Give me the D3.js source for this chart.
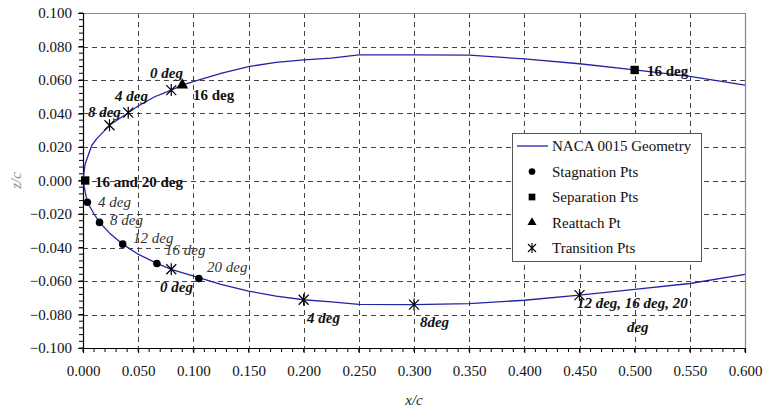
<!DOCTYPE html>
<html>
<head>
<meta charset="utf-8">
<script src="https://cdn.jsdelivr.net/npm/d3@7"></script>
<style>
  body { margin: 0; background: #fff; }
  svg { font-family: "Liberation Serif", "Times New Roman", serif; }
</style>
</head>
<body>
<svg id="chart" width="764" height="410"></svg>
<script>
// airfoil outline
var upperX = [0.000, 0.002, 0.008, 0.0125, 0.025, 0.040, 0.050, 0.065, 0.080, 0.090, 0.100, 0.125, 0.150, 0.175, 0.200, 0.225, 0.250, 0.300, 0.350, 0.400, 0.450, 0.500, 0.550, 0.600];
var upperZ = [0.000, 0.010, 0.021, 0.025, 0.0335, 0.040, 0.0445, 0.050, 0.054, 0.057, 0.059, 0.064, 0.068, 0.0705, 0.072, 0.073, 0.075, 0.075, 0.0748, 0.0726, 0.0697, 0.066, 0.0622, 0.057];
var lowerX = [0.000, 0.002, 0.004, 0.010, 0.015, 0.025, 0.036, 0.050, 0.067, 0.080, 0.095, 0.105, 0.125, 0.150, 0.175, 0.200, 0.225, 0.250, 0.300, 0.350, 0.400, 0.450, 0.500, 0.550, 0.600];
var lowerZ = [0.000, -0.007, -0.013, -0.020, -0.025, -0.032, -0.038, -0.044, -0.0495, -0.053, -0.056, -0.058, -0.062, -0.066, -0.069, -0.0712, -0.0725, -0.074, -0.0741, -0.0735, -0.0715, -0.0684, -0.065, -0.0615, -0.056];

var stagX = [0.004, 0.015, 0.036, 0.067, 0.105];
var stagZ = [-0.013, -0.025, -0.038, -0.0495, -0.0585];
var sepX = [0.002, 0.500];
var sepZ = [0.000, 0.066];
var reatX = [0.090];
var reatZ = [0.057];
var transX = [0.024, 0.041, 0.080, 0.080, 0.200, 0.300, 0.450];
var transZ = [0.033, 0.0405, 0.054, -0.053, -0.0712, -0.0741, -0.0684];

// annotation text, anchored at data coords (left/baseline)
var labelText = ["0 deg", "16 deg", "4 deg", "8 deg", "16 and 20 deg", "4 deg", "8 deg", "12 deg", "16 deg", "20 deg", "0 deg", "4 deg", "8deg", "12 deg, 16 deg, 20", "deg", "16 deg"];
var labelX = [0.0607, 0.0997, 0.029, 0.0045, 0.0109, 0.0136, 0.0245, 0.0453, 0.0743, 0.1124, 0.0698, 0.203, 0.3054, 0.4477, 0.493, 0.5112];
var labelZ = [0.0612, 0.0481, 0.0475, 0.0379, -0.0039, -0.0158, -0.0266, -0.0373, -0.0445, -0.0546, -0.0666, -0.0851, -0.0875, -0.0761, -0.0904, 0.0624];
var labelKind = ["bi", "b", "bi", "bi", "b", "i", "i", "i", "i", "i", "bi", "bi", "bi", "bi", "bi", "b"];

var xTicks = d3.range(0, 0.6001, 0.05);
var yTicks = d3.range(-0.1, 0.1001, 0.02);
var legendNames = ["NACA 0015 Geometry", "Stagnation Pts", "Separation Pts", "Reattach Pt", "Transition Pts"];

var svg = d3.select('#chart');
var pL = 83, pR = 745, pT = 13, pB = 348;
var curveColor = '#2323a6';

var x = d3.scaleLinear().domain([0, 0.6]).range([pL, pR]);
var y = d3.scaleLinear().domain([-0.1, 0.1]).range([pB, pT]);

svg.append('rect').attr('width', 764).attr('height', 410).attr('fill', '#fff');

// grid
var grid = svg.append('g').attr('stroke', '#444').attr('stroke-dasharray', '5,4').attr('stroke-width', 1);
grid.selectAll('line.gx').data(xTicks.slice(1, -1)).enter().append('line')
    .attr('x1', function(d) { return Math.round(x(d)) + 0.5; })
    .attr('x2', function(d) { return Math.round(x(d)) + 0.5; })
    .attr('y1', pT).attr('y2', pB);
grid.selectAll('line.gy').data(yTicks.slice(1, -1)).enter().append('line')
    .attr('y1', function(d) { return Math.round(y(d)) + 0.5; })
    .attr('y2', function(d) { return Math.round(y(d)) + 0.5; })
    .attr('x1', pL).attr('x2', pR);

// top/right frame
svg.append('path')
    .attr('d', 'M' + pL + ',' + (pT + 0.5) + 'H' + (pR + 0.5) + 'V' + pB)
    .attr('fill', 'none').attr('stroke', '#888').attr('stroke-width', 1.2);

// axes
var xAxis = d3.axisBottom(x).tickValues(xTicks).tickFormat(d3.format('.3f')).tickSize(5).tickPadding(12);
var yAxis = d3.axisLeft(y).tickValues(yTicks).tickFormat(d3.format('.3f')).tickSize(5).tickPadding(6);

var gx = svg.append('g').attr('transform', 'translate(0,' + pB + ')').call(xAxis);
var gy = svg.append('g').attr('transform', 'translate(' + pL + ',0)').call(yAxis);

// minor ticks
gx.selectAll('line.minor').data(d3.range(0, 0.6001, 0.01)).enter().append('line')
    .attr('x1', function(d) { return x(d); }).attr('x2', function(d) { return x(d); })
    .attr('y1', 0).attr('y2', 4).attr('stroke', '#000');
gy.selectAll('line.minor').data(d3.range(-0.1, 0.1001, 0.004)).enter().append('line')
    .attr('y1', function(d) { return y(d); }).attr('y2', function(d) { return y(d); })
    .attr('x1', 0).attr('x2', -4).attr('stroke', '#000');

[gx, gy].forEach(function(g) {
  g.select('.domain').attr('stroke', '#000').attr('stroke-width', 1.2);
  g.selectAll('text').attr('font-family', '"Liberation Serif", serif').attr('font-size', 15).attr('fill', '#111');
});

// axis titles
svg.append('text').attr('x', x(0.3)).attr('y', 405).attr('text-anchor', 'middle')
    .attr('font-style', 'italic').attr('font-size', 15).attr('fill', '#222').text('x/c');
svg.append('text').attr('transform', 'translate(21,' + y(0) + ') rotate(-90)').attr('text-anchor', 'middle')
    .attr('font-style', 'italic').attr('font-size', 15).attr('fill', '#888').text('z/c');

// airfoil
var line = d3.line().x(function(d) { return x(d[0]); }).y(function(d) { return y(d[1]); });
svg.append('path').datum(d3.zip(upperX, upperZ)).attr('d', line)
    .attr('fill', 'none').attr('stroke', curveColor).attr('stroke-width', 1.3);
svg.append('path').datum(d3.zip(lowerX, lowerZ)).attr('d', line)
    .attr('fill', 'none').attr('stroke', curveColor).attr('stroke-width', 1.3);

// markers
var sym = {
  circle: d3.symbol().type(d3.symbolCircle).size(45),
  square: d3.symbol().type(d3.symbolSquare).size(70),
  triangle: d3.symbol().type(d3.symbolTriangle).size(60)
};
function star(g) {
  g.append('path').attr('d', 'M-5,-5L5,5M-5,5L5,-5M0,-6L0,6')
    .attr('stroke', '#000').attr('stroke-width', 1.2).attr('fill', 'none');
}
function addPts(xs, zs, draw) {
  d3.zip(xs, zs).forEach(function(p) {
    var g = svg.append('g').attr('transform', 'translate(' + x(p[0]) + ',' + y(p[1]) + ')');
    draw(g);
  });
}
addPts(stagX, stagZ, function(g) { g.append('path').attr('d', sym.circle()).attr('fill', '#000'); });
addPts(sepX, sepZ, function(g) { g.append('path').attr('d', sym.square()).attr('fill', '#000'); });
addPts(reatX, reatZ, function(g) { g.append('path').attr('d', sym.triangle()).attr('fill', '#000'); });
addPts(transX, transZ, star);

// annotations
labelText.forEach(function(t, i) {
  var k = labelKind[i];
  svg.append('text').attr('x', x(labelX[i])).attr('y', y(labelZ[i]))
      .attr('font-size', 15)
      .attr('font-weight', k.indexOf('b') >= 0 ? 'bold' : 'normal')
      .attr('font-style', k.indexOf('i') >= 0 ? 'italic' : 'normal')
      .attr('fill', k === 'i' ? '#333' : '#111')
      .text(t);
});

// legend
var lg = svg.append('g').attr('transform', 'translate(512,133)');
lg.append('rect').attr('x', 0.5).attr('y', 0.5).attr('width', 189).attr('height', 128)
    .attr('fill', '#fff').attr('stroke', '#555').attr('stroke-width', 1);
legendNames.forEach(function(n, i) {
  var cy = 13 + i * 25.5;
  var g = lg.append('g').attr('transform', 'translate(20,' + cy + ')');
  if (i === 0) g.append('line').attr('x1', -15).attr('x2', 16).attr('stroke', curveColor).attr('stroke-width', 1.3);
  if (i === 1) g.append('path').attr('d', d3.symbol().type(d3.symbolCircle).size(35)()).attr('fill', '#000');
  if (i === 2) g.append('path').attr('d', d3.symbol().type(d3.symbolSquare).size(45)()).attr('fill', '#000');
  if (i === 3) g.append('path').attr('d', d3.symbol().type(d3.symbolTriangle).size(35)()).attr('fill', '#000');
  if (i === 4) g.append('path').attr('d', 'M-4,-4L4,4M-4,4L4,-4M0,-5L0,5').attr('stroke', '#000').attr('stroke-width', 1.1);
  lg.append('text').attr('x', 40).attr('y', cy + 5).attr('font-size', 15).attr('fill', '#111').text(n);
});
</script>
</body>
</html>
